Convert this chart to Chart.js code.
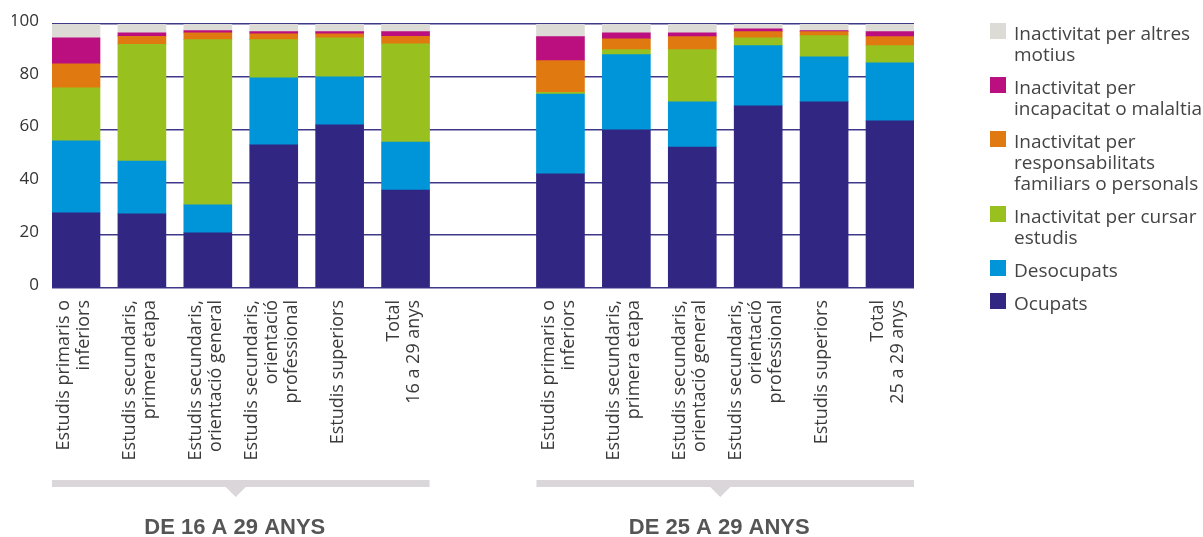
<!DOCTYPE html>
<html>
<head>
<meta charset="utf-8">
<script src="https://cdn.jsdelivr.net/npm/chart.js@4"></script>
<style>
  html, body { margin: 0; padding: 0; background: #fff; }
  #wrap { position: relative; width: 1203px; height: 537px; }
  #legend { position: absolute; left: 990px; top: 23px; font: 19px 'Open Sans', sans-serif; color: #444; }
  #legend .item { position: relative; padding-left: 24px; margin-bottom: 12px; line-height: 21px; }
  #legend .sw { position: absolute; left: 0; top: 0; width: 16px; height: 16px; }
</style>
</head>
<body>
<div id="wrap">
  <canvas id="chart" width="1203" height="537"></canvas>
  <div id="legend"></div>
</div>
<script>
// categories (line-broken as in the picture)
const categories = [
  ['Estudis primaris o', 'inferiors'],
  ['Estudis secundaris,', 'primera etapa'],
  ['Estudis secundaris,', 'orientació general'],
  ['Estudis secundaris,', 'orientació', 'professional'],
  ['Estudis superiors'],
  ['Total', '16 a 29 anys'],
  ['Estudis primaris o', 'inferiors'],
  ['Estudis secundaris,', 'primera etapa'],
  ['Estudis secundaris,', 'orientació general'],
  ['Estudis secundaris,', 'orientació', 'professional'],
  ['Estudis superiors'],
  ['Total', '25 a 29 anys']
];
const groups = ['DE 16 A 29 ANYS', 'DE 25 A 29 ANYS'];

const ocupats     = [28.5, 28.1, 20.9, 54.2, 61.8, 37.1, 43.2, 59.9, 53.4, 69.0, 70.5, 63.3];
const desocupats  = [27.2, 20.0, 10.6, 25.4, 18.2, 18.2, 30.3, 28.5, 17.1, 22.8, 17.1, 22.0];
const cursar      = [20.1, 44.2, 62.6, 14.5, 14.8, 37.2,  0.6,  1.9, 19.8,  3.0,  8.0,  6.5];
const responsab   = [ 9.1,  3.0,  2.6,  2.2,  1.5,  2.8, 12.0,  4.1,  4.9,  2.3,  1.5,  3.4];
const incapacitat = [ 9.9,  1.4,  0.8,  0.8,  0.8,  1.8,  9.1,  2.3,  1.5,  1.1,  0.4,  1.9];
const altres      = [ 5.2,  3.3,  2.5,  2.9,  2.9,  2.9,  4.8,  3.3,  3.3,  1.8,  2.5,  2.9];

const yTicks = [0, 20, 40, 60, 80, 100];

// layout: second group sits a bit further than one slot from the first
const GROUP_GAP = 1.35;
const EDGE = 0.364;
const xAt = i => i + (i >= 6 ? GROUP_GAP : 0);

const series = [
  { label: ['Ocupats'], data: ocupats, color: '#312783' },
  { label: ['Desocupats'], data: desocupats, color: '#0095d9' },
  { label: ['Inactivitat per cursar', 'estudis'], data: cursar, color: '#98c11f' },
  { label: ['Inactivitat per', 'responsabilitats', 'familiars o personals'], data: responsab, color: '#e07a10' },
  { label: ['Inactivitat per', 'incapacitat o malaltia'], data: incapacitat, color: '#bb0f80' },
  { label: ['Inactivitat per altres', 'motius'], data: altres, color: '#dcdbd6' }
];

const FONT = "'Open Sans', sans-serif";

// rotated category labels + group brackets under the x axis
const decor = {
  id: 'decor',
  afterDraw(chart) {
    const ctx = chart.ctx, area = chart.chartArea;
    const bars = chart.getDatasetMeta(0).data;
    ctx.save();
    ctx.fillStyle = '#3a3a3a';
    ctx.font = '18px ' + FONT;
    ctx.textAlign = 'right';
    ctx.textBaseline = 'middle';
    const lh = 20;
    categories.forEach((lines, i) => {
      const cx = bars[i].x - 2;
      lines.forEach((t, j) => {
        const x = cx + (j - (lines.length - 1) / 2) * lh;
        ctx.save();
        ctx.translate(x, area.bottom + 12);
        ctx.rotate(-Math.PI / 2);
        ctx.fillText(t, 0, 0);
        ctx.restore();
      });
    });
    groups.forEach((g, k) => {
      const first = bars[k * 6], last = bars[k * 6 + 5];
      const l = first.x - first.width / 2, r = last.x + last.width / 2;
      const y = area.bottom + 192;
      const mid = (l + r) / 2 - 5;
      ctx.fillStyle = '#dbd6da';
      ctx.fillRect(l, y, r - l, 7);
      ctx.beginPath();
      ctx.moveTo(mid - 10, y + 7);
      ctx.lineTo(mid + 10, y + 7);
      ctx.lineTo(mid, y + 17);
      ctx.closePath();
      ctx.fill();
      ctx.fillStyle = '#555';
      ctx.font = "bold 22px 'Liberation Sans', Arial, sans-serif";
      ctx.textAlign = 'center';
      ctx.textBaseline = 'middle';
      ctx.fillText(g, mid - 1, area.bottom + 240);
    });
    ctx.restore();
  }
};

const chart = new Chart(document.getElementById('chart'), {
  type: 'bar',
  data: {
    datasets: series.map(s => ({
      label: s.label.join(' '),
      data: s.data.map((v, i) => ({ x: xAt(i), y: v })),
      backgroundColor: s.color,
      borderWidth: 0,
      barThickness: 48
    }))
  },
  options: {
    responsive: false,
    animation: false,
    layout: { padding: { left: 12, right: 289, top: 24, bottom: 241 } },
    plugins: { legend: { display: false }, tooltip: { enabled: false } },
    scales: {
      x: {
        type: 'linear', stacked: true, offset: false,
        min: -EDGE, max: 11 + GROUP_GAP + EDGE,
        grid: { display: false }, border: { display: false },
        ticks: { display: false }
      },
      y: {
        stacked: true, min: 0, max: 100,
        afterBuildTicks: s => { s.ticks = yTicks.map(v => ({ value: v })); },
        afterFit: s => { s.width = 40; },
        grid: { color: '#3f3889', lineWidth: 1.5, drawTicks: false },
        border: { display: false },
        ticks: { color: '#333', padding: 13, labelOffset: -3, font: { family: FONT, size: 17 } }
      }
    }
  },
  plugins: [decor]
});

// legend (top to bottom = top of stack first)
const leg = document.getElementById('legend');
series.slice().reverse().forEach(s => {
  leg.insertAdjacentHTML('beforeend',
    `<div class="item"><span class="sw" style="background:${s.color}"></span>${s.label.join('<br>')}</div>`);
});
</script>
</body>
</html>
